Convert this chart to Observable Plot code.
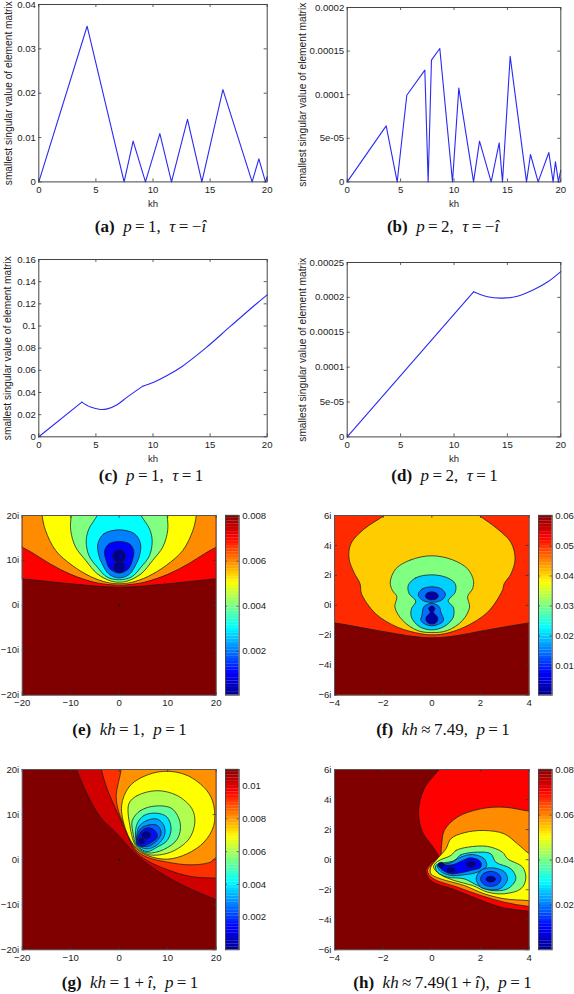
<!DOCTYPE html>
<html><head><meta charset="utf-8">
<script src="https://cdn.jsdelivr.net/npm/d3@7"></script>
<script src="https://cdn.jsdelivr.net/npm/@observablehq/plot@0.6"></script>
<style>
html,body{margin:0;padding:0;background:#fff}
#root{position:relative;width:574px;height:994px;overflow:hidden}
#root>*{position:absolute}
.cap{font-family:"Liberation Serif",serif;font-size:17px;color:#111;white-space:nowrap;transform:translate(-50%,-50%)}
svg{overflow:visible}
</style></head><body><div id="root"></div>
<script>
// ---------- line panels: [kh, smallest singular value] ----------
const seriesA=[[0,0],[4.23,.0351],[7.47,0],[8.26,.0092],[9.34,0],[10.6,.0109],[11.62,0],[13.02,.0141],[14.28,0],[16.12,.0208],[18.68,0],[19.27,.0052],[19.85,0],[20,.0012]];
const seriesB=[[0,0],[3.65,6.42e-5],[4.68,0],[5.58,9.94e-5],[7.27,1.281e-4],[7.58,0],[7.89,1.396e-4],[8.67,1.53e-4],[9.86,0],[10.45,1.075e-4],[11.83,0],[12.39,4.67e-5],[13.48,0],[14.23,4.47e-5],[14.54,0],[15.26,1.44e-4],[16.79,0],[17.16,3.14e-5],[17.88,0],[18.88,3.37e-5],[19.28,0],[19.5,2.3e-5],[19.78,0],[20,1.34e-5]];
const seriesC1=[[0,0],[3.77,.0313]];
const seriesC2=[[3.77,.0313],[4.53,.0268],[5.4,.0247],[5.99,.0252],[6.86,.029],[7.74,.0358],[9.11,.0457]];
const seriesC3=[[9.11,.0457],[10.07,.0493],[11.24,.0553],[12.55,.0635],[14.6,.08],[16.79,.0998],[18.98,.1194],[20,.1281]];
const seriesD1=[[0,0],[11.83,2.079e-4]];
const seriesD2=[[11.83,2.079e-4],[13.13,2.008e-4],[14.54,1.989e-4],[15.94,2.017e-4],[17.5,2.113e-4],[18.75,2.22e-4],[20,2.37e-4]];
const kh5=[0,5,10,15,20];
const yTicksA=[0,.01,.02,.03,.04];
const yTicksB=[0,5e-5,1e-4,1.5e-4,2e-4];
const yTicksC=[0,.02,.04,.06,.08,.1,.12,.14,.16];
const yTicksD=[0,5e-5,1e-4,1.5e-4,2e-4,2.5e-4];
const yLabel="smallest singular value of element matrix";

// ---------- contour panel e ----------
const eRed=[[-26,6.3],[-20,5.9],[-10,4.8],[0,4.05],[10,4.8],[20,5.9],[26,6.3],[26,28],[-26,28]];
const eOrange=[[-26,16],[-20,12.95],[-17.6,11.5],[-14.2,9.2],[-10,6.9],[-5.2,5.15],[-1.8,4.6],[0,4.5],[1.8,4.6],[5.2,5.15],[10,6.9],[14.2,9.2],[17.6,11.5],[20,12.95],[26,16],[26,28],[-26,28]];
const eYellow=[[-16.3,24],[-15.9,20],[-15.2,16.7],[-13.1,12.2],[-9.7,8.9],[-5.9,6.4],[-2.5,5.1],[0,4.8],[2.5,5.1],[5.9,6.4],[9.7,8.9],[13.1,12.2],[15.2,16.7],[15.9,20],[16.3,24]];
const eGreen=[[-9.5,24],[-9.9,20],[-10,16.7],[-9,13],[-6.9,10],[-4.5,7],[-1.8,5.45],[0,5.15],[1.8,5.45],[4.5,7],[6.9,10],[9,13],[10,16.7],[9.9,20],[9.5,24]];
const eCyan=[[-3,23],[-4.5,20],[-6.25,17],[-6.8,14.4],[-6.25,11.1],[-4.5,8.5],[-2.5,6.3],[0,5.7],[2.5,6.3],[4.5,8.5],[6.25,11.1],[6.8,14.4],[6.25,17],[4.5,20],[3,23]];
const eBlue=[[0,16.8],[-3.2,15.9],[-4.4,13.7],[-4.2,11.1],[-3.5,9.2],[-2.1,6.9],[0,6.1],[2.1,6.9],[3.5,9.2],[4.2,11.1],[4.4,13.7],[3.2,15.9]];
const eDeep=[[0,14.2],[-2.1,13.7],[-3,12.2],[-2.8,10.35],[-1.9,8.1],[0,7.2],[1.9,8.1],[2.8,10.35],[3,12.2],[2.1,13.7]];
const eNavyA=[[0,12.35],[-.95,11.95],[-1.3,10.95],[-.95,9.95],[0,9.55],[.95,9.95],[1.3,10.95],[.95,11.95]];
const eNavyB=[[0,9.75],[-.8,9.4],[-1.15,8.5],[-.8,7.6],[0,7.25],[.8,7.6],[1.15,8.5],[.8,9.4]];
const eBands=[[eRed,"#ff0000"],[eOrange,"#ff8c00"],[eYellow,"#ffff00"],[eGreen,"#80ff80"],[eCyan,"#00ffff"],[eBlue,"#0080ff"],[eDeep,"#0000ff"],[eNavyA,"#00008f"],[eNavyB,"#00008f"]];

// ---------- contour panel f ----------
const fFloor=[[-5,-.95],[-4,-1.17],[-2.37,-1.64],[-.73,-2.08],[0,-2.17],[.78,-2.08],[2.29,-1.64],[4,-1.17],[5,-.95],[5,-8],[-5,-8]];
const fAmber=[[-1.2,7],[-1.96,6],[-2.78,5.1],[-3.33,4.1],[-3.4,3.1],[-3.2,2.2],[-2.95,1.44],[-2.89,.77],[-2.3,-.57],[-1.41,-1.46],[-.45,-1.9],[0,-1.97],[.5,-1.9],[1.33,-1.46],[2.29,-.46],[2.9,1],[2.97,1.44],[3.25,2.1],[3.42,3.1],[3.25,4.2],[2.7,5.1],[1.95,6],[1.2,7]];
const fGreen=[[0,3.31],[-.86,3.04],[-1.48,2.44],[-1.71,1.55],[-1.62,.99],[-1.44,.59],[-1.52,-.12],[-1.2,-1.01],[-.59,-1.68],[0,-1.82],[.64,-1.68],[1.26,-1.01],[1.55,-.12],[1.47,.59],[1.67,1.1],[1.71,1.66],[1.47,2.44],[.85,3.04]];
const fCyan=[[0,2.04],[-.66,1.84],[-.97,1.33],[-.93,.77],[-.66,.28],[-.84,-.23],[-.84,-.79],[-.52,-1.41],[0,-1.64],[.51,-1.41],[.88,-.79],[.88,-.12],[.67,.28],[.96,.88],[.96,1.44],[.64,1.84]];
const fBlueA=[[0,1.24],[-.4,1.09],[-.56,.72],[-.4,.35],[0,.2],[.4,.35],[.56,.72],[.4,1.09]];
const fBlueB=[[0,.14],[-.32,-.08],[-.41,-.68],[-.45,-1.01],[-.25,-1.28],[0,-1.37],[.26,-1.28],[.48,-1.01],[.37,-.46],[.3,-.08]];
const fNavyA=[[0,.9],[-.19,.82],[-.27,.63],[-.19,.44],[0,.36],[.19,.44],[.27,.63],[.19,.82]];
const fNavyB=[[0,-.03],[-.13,-.2],[-.07,-.47],[-.22,-.75],[-.24,-1],[-.12,-1.22],[0,-1.25],[.12,-1.22],[.24,-1],[.22,-.75],[.07,-.47],[.13,-.2]];
const fBands=[[fFloor,"#800000"],[fAmber,"#ffcc00"],[fGreen,"#80ff80"],[fCyan,"#00d0ff"],[fBlueA,"#0070ff"],[fBlueB,"#0070ff"],[fNavyA,"#0000a8"],[fNavyB,"#0000a8"]];

// ---------- contour panel g ----------
const gDark=[[-10,23],[-8.8,20],[-6.46,14.2],[-3.85,9.4],[-.41,5.7],[3,1.66],[5.8,-.92],[10.6,-4.25],[15.4,-6.84],[20,-8.9],[25,-11],[28,28]];
const gRed=[[-4.5,24],[-3.7,20],[-2.5,15.7],[-.4,10.5],[1.45,6.1],[3.3,1.9],[5.77,-.2],[9.9,-2.2],[14.7,-3.73],[20,-4.1],[25,-4.2],[28,28]];
const gOrange=[[.8,25],[.41,20],[-.62,14.2],[-.07,10.5],[1.55,6.6],[3.4,2.2],[5.77,.55],[9.9,-.55],[14.7,-1.15],[18.8,-.55],[20,.55],[25,5],[28,28]];
const gYellow=[[.5,12],[2,16.1],[4.74,18.3],[9.2,19.6],[14,18.7],[18.1,15.3],[19.5,12],[19.5,7.6],[17.5,3.9],[14,1.3],[9.9,.1],[5.9,.9],[3.5,2.5],[1.4,6.5]];
const gLime=[[2,12.4],[3.7,14.2],[7.84,15.3],[12,14.2],[15,11.3],[15.6,8.3],[14.4,4.6],[10.6,1.66],[6.1,1.1],[3.6,2.7],[2.2,7.6]];
const gGreen=[[2.7,8.7],[4.4,10.9],[7.5,11.9],[10.9,11.3],[12.6,7.95],[12,4.6],[9.2,2.25],[5.8,1.5],[3.7,2.9],[2.8,6.2]];
const gCyan=[[3.57,7.6],[5.1,9.8],[7.84,10.3],[9.9,9.4],[10.7,6.84],[9.9,4.25],[7.84,2.8],[5.77,1.8],[3.8,3.1]];
const gSky=[[4,7.2],[5.77,8.7],[7.84,9],[9.2,7.6],[9.35,5.4],[7.84,3.3],[5.77,2.4],[3.9,3.3]];
const gAzure=[[4.4,6.84],[6.1,7.7],[7.84,7.6],[8.66,6],[7.84,4.25],[5.77,2.9],[4.1,3.4],[3.6,4.6]];
const gBlue=[[3.7,4.6],[4.74,6.5],[6.1,7.1],[7.5,6.3],[7.84,5],[6.1,3.5],[4.4,2.9],[3.57,3.5]];
const gNavyA=[[5.57,6.23],[4.93,6],[4.67,5.43],[4.93,4.86],[5.57,4.63],[6.2,4.86],[6.47,5.43],[6.2,6]];
const gNavyB=[[4.6,4.75],[4.14,4.56],[3.95,4.1],[4.14,3.64],[4.6,3.45],[5.06,3.64],[5.25,4.1],[5.06,4.56]];
const gBands=[[gDark,"#d00000"],[gRed,"#ff3000"],[gOrange,"#ff9000"],[gYellow,"#ffff00"],[gLime,"#b0ff50"],[gGreen,"#60ffa0"],[gCyan,"#00e0ff"],[gSky,"#00a0ff"],[gAzure,"#0060ff"],[gBlue,"#0010f0"],[gNavyA,"#00008f"],[gNavyB,"#00008f"]];

// ---------- contour panel h ----------
const hRed=[[.9,7.2],[.3,6],[-.32,4.71],[-.55,3.16],[-.38,1.83],[.1,.72],[.3,.05],[0,-.17],[-.25,-.72],[-.04,-1.39],[.92,-1.99],[1.88,-2.61],[2.84,-3.16],[4,-3.43],[5,-3.5],[5.5,7.5]];
const hOrange=[[5,3.1],[4,3.23],[2.97,3.49],[2.01,3.38],[1.05,2.83],[.51,1.94],[.4,.94],[.34,.17],[.1,-.17],[-.18,-.72],[.03,-1.23],[1.05,-1.83],[2.01,-2.38],[2.97,-2.83],[4,-3.12],[5,-3.25]];
const hYellow=[[5,-.6],[4,.39],[3.52,1.05],[2.97,1.72],[2.15,1.94],[1.33,1.79],[.78,1.39],[.58,.72],[.16,-.06],[-.04,-.5],[-.04,-.94],[.37,-1.28],[1.33,-1.72],[2.15,-2.27],[2.97,-2.6],[4,-2.72],[5,-2.8]];
const hGreen=[[.78,.28],[.99,.61],[1.47,.83],[2.29,.88],[2.9,.5],[3.11,.06],[3.73,-.5],[3.86,-1.28],[3.66,-1.94],[2.97,-2.27],[2.29,-2.16],[1.67,-1.72],[.92,-1.39],[.3,-.94],[.07,-.5],[.23,-.12]];
const hCyan=[[.92,-.06],[1.19,.32],[1.88,.5],[2.42,.39],[2.63,-.17],[3.25,-.61],[3.45,-1.28],[3.11,-1.94],[2.42,-2.05],[1.88,-1.72],[1.33,-1.28],[.64,-1.16],[.23,-.83],[.16,-.39]];
const hAzureA=[[.23,-.39],[.78,-.21],[1.19,.17],[1.67,.34],[2.15,.06],[2.25,-.43],[1.88,-.83],[1.33,-1.01],[.78,-1.05],[.37,-.79]];
const hAzureB=[[1.82,-1.28],[2.01,-.72],[2.42,-.54],[2.97,-.79],[3.11,-1.32],[2.84,-1.9],[2.42,-2],[2.01,-1.83]];
const hBlueA=[[.3,-.39],[.85,-.34],[1.26,-.06],[1.6,.12],[1.99,-.12],[2.01,-.5],[1.6,-.72],[1.19,-.88],[.78,-.94],[.4,-.65]];
const hBlueB=[[2.42,-.78],[2.12,-.93],[2,-1.28],[2.12,-1.63],[2.42,-1.78],[2.72,-1.63],[2.84,-1.28],[2.72,-.93]];
const hNavyA=[[1.6,-.1],[1.46,-.16],[1.4,-.3],[1.46,-.44],[1.6,-.5],[1.74,-.44],[1.8,-.3],[1.74,-.16]];
const hNavyB=[[.78,-.5],[.65,-.55],[.59,-.68],[.65,-.81],[.78,-.86],[.91,-.81],[.97,-.68],[.91,-.55]];
const hNavyC=[[2.42,-1.1],[2.28,-1.16],[2.22,-1.3],[2.28,-1.44],[2.42,-1.5],[2.56,-1.44],[2.62,-1.3],[2.56,-1.16]];
const hNavyD=[[.38,-.18],[.29,-.23],[.25,-.35],[.29,-.47],[.38,-.52],[.47,-.47],[.51,-.35],[.47,-.23]];
const hBands=[[hRed,"#ff0000"],[hOrange,"#ff8c00"],[hYellow,"#ffff00"],[hGreen,"#80ff80"],[hCyan,"#00e0ff"],[hAzureA,"#0090ff"],[hAzureB,"#0090ff"],[hBlueA,"#0000ff"],[hBlueB,"#0040ff"],[hNavyA,"#00008f"],[hNavyB,"#00008f"],[hNavyC,"#00008f"],[hNavyD,"#00008f"]];

// ---------- colourbars ----------
const jetPos=[0,.125,.375,.625,.875,1];
const jetColors=["#00008f","#0000ff","#00ffff","#ffff00","#ff0000","#800000"];
const eRange=[.00005,.00803], eBar=[.002,.004,.006,.008];
const fRange=[.0002,.0602], fBar=[.01,.02,.03,.04,.05,.06];
const gRange=[.00003,.011], gBar=[.002,.004,.006,.008,.01];
const hRange=[.0001,.0803], hBar=[.02,.04,.06,.08];

// ---------- captions ----------
const sp="&thinsp;", eq=sp+"="+sp, approx=sp+"≈"+sp;
const captions=[
 ["<b>(a)</b>&nbsp; <i>p</i>"+eq+"1, &nbsp;<i>τ</i>"+eq+"−<i>î</i>",150.5,227],
 ["<b>(b)</b>&nbsp; <i>p</i>"+eq+"2, &nbsp;<i>τ</i>"+eq+"−<i>î</i>",443,227],
 ["<b>(c)</b>&nbsp; <i>p</i>"+eq+"1, &nbsp;<i>τ</i>"+eq+"1",151,476],
 ["<b>(d)</b>&nbsp; <i>p</i>"+eq+"2, &nbsp;<i>τ</i>"+eq+"1",444.5,476],
 ["<b>(e)</b>&nbsp; <i>kh</i>"+eq+"1, &nbsp;<i>p</i>"+eq+"1",129.5,730],
 ["<b>(f)</b>&nbsp; <i>kh</i>"+approx+"7.49, &nbsp;<i>p</i>"+eq+"1",443,730],
 ["<b>(g)</b>&nbsp; <i>kh</i>"+eq+"1"+sp+"+"+sp+"<i>î</i>, &nbsp;<i>p</i>"+eq+"1",130,983],
 ["<b>(h)</b>&nbsp; <i>kh</i>"+approx+"7.49(1"+sp+"+"+sp+"<i>î</i>), &nbsp;<i>p</i>"+eq+"1",442.5,983]
];

const root=document.getElementById("root");
const FONT="Liberation Sans, Arial, sans-serif", FS=9.6, INK="#222";
const lab=v=>v===5e-5?"5e-05":String(v);
const imag=v=>(v<0?"−":"")+Math.abs(v)+"i";

function place(svg,left,top){svg.style.left=left+"px";svg.style.top=top+"px";svg.style.position="absolute";root.appendChild(svg);}

// inward tick marks on all four sides, through the panel's scales
function axes(xd,yd,w,h,xT,yT,xF,yF,yl,labelOff,kh){
  const tx=3/h*(yd[1]-yd[0]), ty=3/w*(xd[1]-xd[0]), c="#333";
  const r={stroke:c,strokeWidth:.8};
  return [
    Plot.ruleX(xT,{x:d=>d,y1:yd[0],y2:yd[0]+tx,...r}),
    Plot.ruleX(xT,{x:d=>d,y1:yd[1],y2:yd[1]-tx,...r}),
    Plot.ruleY(yT,{y:d=>d,x1:xd[0],x2:xd[0]+ty,...r}),
    Plot.ruleY(yT,{y:d=>d,x1:xd[1],x2:xd[1]-ty,...r}),
    Plot.axisX({ticks:xT,tickSize:0,tickPadding:4,tickFormat:xF,label:kh?"kh":null,labelAnchor:"center",labelArrow:"none",labelOffset:25,color:INK}),
    Plot.axisY({ticks:yT,tickSize:0,tickPadding:3,tickFormat:yF,label:null,color:INK}),
    ...(yl?[Plot.axisY({ticks:[],tickSize:0,label:yl,labelAnchor:"center",labelArrow:"none",labelOffset:labelOff,fontSize:10.2,color:INK})]:[])
  ];
}
const base=(origin,x0,x1,y0,y1,xd,yd,marks)=>Plot.plot({
  width:287,height:y1-y0+42,marginLeft:x0-origin,marginRight:origin+287-x1,marginTop:12,marginBottom:30,
  style:{fontFamily:FONT,fontSize:FS+"px",background:"transparent",color:INK},
  x:{domain:xd,axis:null},y:{domain:yd,axis:null},marks});

function linePanel(origin,x0,x1,y0,y1,ymax,parts,yT,labelOff){
  const svg=base(origin,x0,x1,y0,y1,[0,20],[0,ymax],[
    ...parts.map(([data,curve])=>Plot.line(data,{x:d=>d[0],y:d=>d[1],stroke:"#2a2af5",strokeWidth:1.1,curve})),
    ...axes([0,20],[0,ymax],x1-x0,y1-y0,kh5,yT,lab,lab,yLabel,labelOff,true),
    Plot.frame({stroke:"#444",strokeWidth:1})
  ]);
  place(svg,origin,y0-12);
}
function contourPanel(origin,x0,x1,y0,y1,xd,yd,xT,yT,bg,bands,extra){
  const svg=base(origin,x0,x1,y0,y1,xd,yd,[
    Plot.frame({fill:bg,stroke:"none"}),
    ...bands.map(([pts,c])=>Plot.line(pts,{x:d=>d[0],y:d=>d[1],fill:c,stroke:"#1a1a1a",strokeWidth:.75,curve:"catmull-rom-closed",clip:true})),
    ...extra,
    ...axes(xd,yd,x1-x0,y1-y0,xT,yT,d=>(d<0?"−":"")+Math.abs(d),imag,null,0,false),
    Plot.frame({stroke:"#555",strokeWidth:1})
  ]);
  place(svg,origin,y0-12);
}
function colorBar(x0,x1,y0,y1,range,ticks){
  const n=64, cells=d3.range(n).map(i=>i);
  const [lo,hi]=range, st=(hi-lo)/n;
  const svg=Plot.plot({
    width:x1-x0+36,height:y1-y0+20,marginLeft:0,marginRight:36,marginTop:10,marginBottom:10,
    style:{fontFamily:FONT,fontSize:FS+"px",background:"transparent",color:INK},
    x:{domain:[0,1],axis:null},y:{domain:range,axis:null},
    color:{type:"linear",domain:jetPos.map(p=>lo+(hi-lo)*p),range:jetColors,clamp:true},
    marks:[
      Plot.rect(cells,{x1:0,x2:1,y1:i=>lo+st*i,y2:i=>lo+st*(i+1.05),fill:i=>lo+st*(i+.5)}),
      Plot.ruleY(ticks,{y:d=>d,x1:0,x2:.15,stroke:"#333",strokeWidth:.7}),
      Plot.ruleY(ticks,{y:d=>d,x1:.85,x2:1,stroke:"#333",strokeWidth:.7}),
      Plot.axisY({anchor:"right",ticks,tickSize:0,tickPadding:3,tickFormat:String,label:null,color:INK}),
      Plot.frame({stroke:"#444",strokeWidth:1})
    ]});
  place(svg,x0,y0-10);
}

const L="linear", S="catmull-rom";
linePanel(0,38.3,266.7,4.3,181.7,.04,[[seriesA,L]],yTicksA,34);
linePanel(287,346.7,560.3,7.3,181.7,2e-4,[[seriesB,L]],yTicksB,48);
linePanel(0,38.3,266.7,259,436.3,.16,[[seriesC1,L],[seriesC2,S],[seriesC3,S]],yTicksC,35);
linePanel(287,346.7,560.3,262.3,436.7,2.5e-4,[[seriesD1,L],[seriesD2,S]],yTicksD,48);

const origin=[{x:0,y:0}];
contourPanel(0,21.7,215.7,515,694.7,[-20,20],[-20,20],[-20,-10,0,10,20],[-20,-10,0,10,20],"#800000",eBands,
  [Plot.dot(origin,{x:"x",y:"y",r:.9,fill:"#111"})]);
contourPanel(287,334,528.7,515,694.7,[-4,4],[-6,6],[-4,-2,0,2,4],[-6,-4,-2,0,2,4,6],"#ff2a00",fBands,[]);
contourPanel(0,21.7,215.7,769,949.3,[-20,20],[-20,20],[-20,-10,0,10,20],[-20,-10,0,10,20],"#800000",gBands,
  [Plot.dot(origin,{x:"x",y:"y",r:1.1,fill:"#111"})]);
contourPanel(287,334,528.7,769,949.3,[-4,4],[-6,6],[-4,-2,0,2,4],[-6,-4,-2,0,2,4,6],"#800000",hBands,[]);

colorBar(225.3,239,515,694.7,eRange,eBar);
colorBar(538.3,552,515,694.7,fRange,fBar);
colorBar(225.3,239,769,949.3,gRange,gBar);
colorBar(538.3,552,769,949.3,hRange,hBar);

captions.forEach(([html,x,y])=>{
  const d=document.createElement("div");d.className="cap";d.innerHTML=html;d.style.left=x+"px";d.style.top=y+"px";root.appendChild(d);
});
</script></body></html>
